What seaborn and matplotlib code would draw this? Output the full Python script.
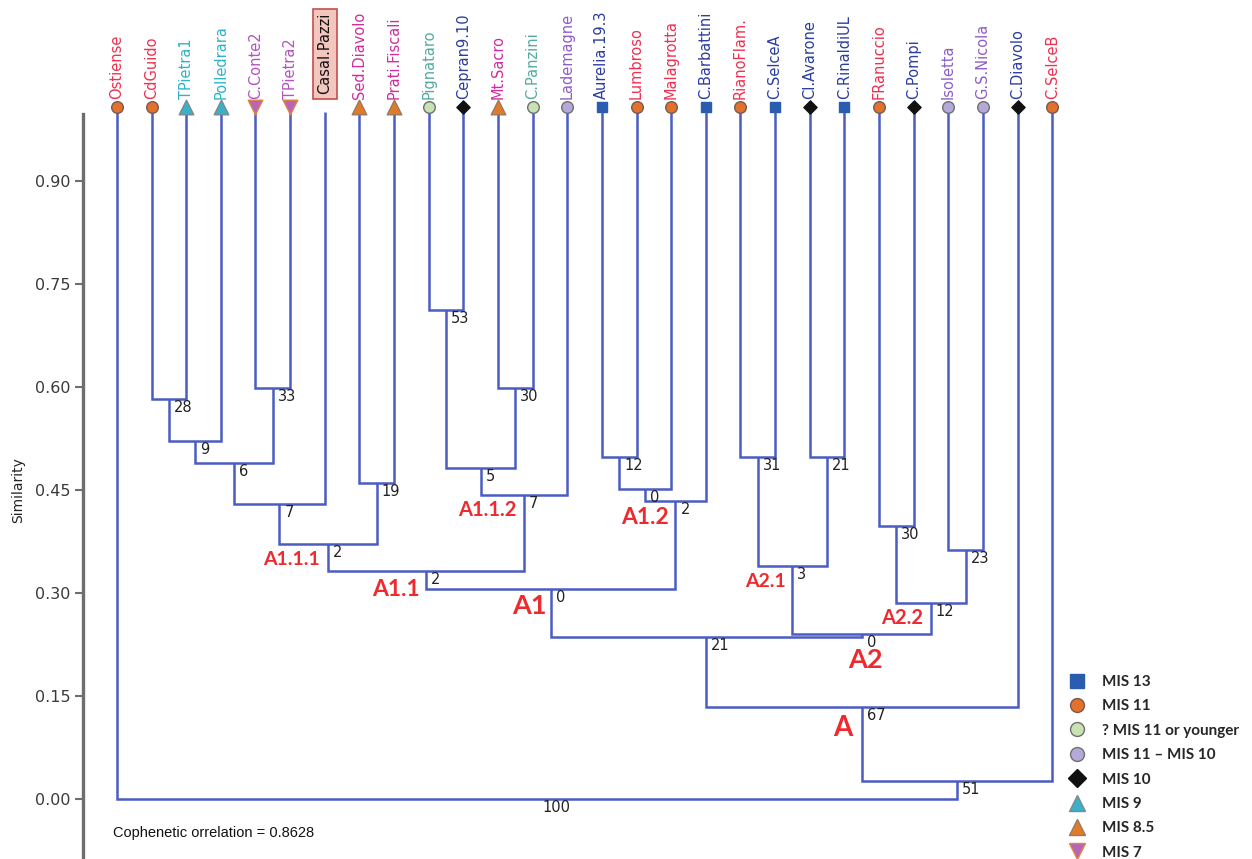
import numpy as np
import pandas as pd
import matplotlib
matplotlib.use("Agg")
import matplotlib.pyplot as plt
from matplotlib.lines import Line2D
from matplotlib.transforms import ScaledTranslation
import seaborn as sns

# ---------------- data ----------------
sites = ["Ostiense", "CdGuido", "TPietra1", "Polledrara", "C.Conte2", "TPietra2",
         "Casal.Pazzi", "Sed.Diavolo", "Prati.Fiscali", "Pignataro", "Cepran9.10",
         "Mt.Sacro", "C.Panzini", "Lademagne", "Aurelia.19.3", "Lumbroso",
         "Malagrotta", "C.Barbattini", "RianoFlam.", "C.SelceA", "Cl.Avarone",
         "C.RinaldiUL", "FRanuccio", "C.Pompi", "Isoletta", "G.S.Nicola",
         "C.Diavolo", "C.SelceB"]

site_age = ["MIS 11", "MIS 11", "MIS 9", "MIS 9", "MIS 7", "MIS 7",
            None, "MIS 8.5", "MIS 8.5", "? MIS 11 or younger", "MIS 10",
            "MIS 8.5", "? MIS 11 or younger", "MIS 11 – MIS 10", "MIS 13", "MIS 11",
            "MIS 11", "MIS 13", "MIS 11", "MIS 13", "MIS 10",
            "MIS 13", "MIS 11", "MIS 10", "MIS 11 – MIS 10", "MIS 11 – MIS 10",
            "MIS 10", "MIS 11"]

age_classes = ["MIS 13", "MIS 11", "? MIS 11 or younger", "MIS 11 – MIS 10",
               "MIS 10", "MIS 9", "MIS 8.5", "MIS 7"]

# merges: children refer to leaves (0..27) or to earlier merges ("m<k>")
merge_left = [1, "m0", 4, "m1", "m3", 7, "m4", 9, 11, "m7", "m9", "m6", 14, "m12",
              "m13", "m11", 18, 20, "m16", 22, 24, "m19", "m18", "m15", "m23", "m24", 0]
merge_right = [2, 3, 5, "m2", 6, 8, "m5", 10, 12, "m8", 13, "m10", 15, 16,
               17, "m14", 19, 21, "m17", 23, 25, "m20", "m21", "m22", 26, 27, "m25"]
merge_similarity = [0.582, 0.521, 0.598, 0.489, 0.430, 0.460, 0.371, 0.712, 0.598,
                    0.482, 0.442, 0.332, 0.498, 0.452, 0.434, 0.306, 0.498, 0.498,
                    0.340, 0.398, 0.362, 0.285, 0.240, 0.236, 0.134, 0.026, 0.000]
merge_support = [28, 9, 33, 6, 7, 19, 2, 53, 30, 5, 7, 2, 12, 0, 2, 0, 31, 21,
                 3, 30, 23, 12, 0, 21, 67, 51, 100]

group_names = ["A1.1.1", "A1.1", "A1.1.2", "A1.2", "A1", "A2.1", "A2.2", "A2", "A"]
group_merge = [6, 11, 10, 14, 15, 18, 21, 22, 24]

y_ticks = [0.00, 0.15, 0.30, 0.45, 0.60, 0.75, 0.90]
coph_text = "Cophenetic orrelation = 0.8628"

# ---------------- styles ----------------
LINE = "#4b5cc2"
marker_style = {
    "MIS 13": dict(marker="s", color="#2a5cb0", edge="#2a5cb0", s=60),
    "MIS 11": dict(marker="o", color="#e2712b", edge="#7a5a50", s=70),
    "? MIS 11 or younger": dict(marker="o", color="#c9e2b3", edge="#6f6f6f", s=70),
    "MIS 11 – MIS 10": dict(marker="o", color="#b6a9d9", edge="#6f6f6f", s=70),
    "MIS 10": dict(marker="D", color="#111111", edge="#111111", s=45),
    "MIS 9": dict(marker="^", color="#39b1c9", edge="#7a8a90", s=110),
    "MIS 8.5": dict(marker="^", color="#e27b29", edge="#9a7a60", s=110),
    "MIS 7": dict(marker="v", color="#b865b9", edge="#e0843e", s=110),
}
label_color = {
    "MIS 13": "#2b3da0", "MIS 11": "#ef3050", "? MIS 11 or younger": "#52ab9f",
    "MIS 11 – MIS 10": "#8d5ec6", "MIS 10": "#2b3da0", "MIS 9": "#2fb3c7",
    "MIS 8.5": "#cf2d9d", "MIS 7": "#b352c0", None: "#222222",
}
group_layout = {  # offsets in pixels from the node, fontsize
    "A1.1.1": (-37, -15, 14), "A1.1": (-30, -19, 16.5), "A1.1.2": (-37, -15, 14.5),
    "A1.2": (-30, -17, 16.5), "A1": (-21, -17, 19.5), "A2.1": (-27, -16, 14),
    "A2.2": (-29, -15, 14.5), "A2": (4, -26, 19.5), "A": (-19, -21, 20),
}

sns.set_theme(style="white")
plt.rcParams["font.family"] = ["DejaVu Sans"]

W, H = 1252, 859
fig = plt.figure(figsize=(W / 100, H / 100), dpi=100)
ax = fig.add_axes([83 / W, 0, (1066 - 83) / W, (H - 114) / H])
ax.set_xlim(-0.98, 27.40)
ax.set_ylim(-0.0874, 0.9975)

# ---------------- dendrogram geometry ----------------
n_leaves = len(sites)
LEAF_TOP = 1.0
pos = {i: (float(i), LEAF_TOP) for i in range(n_leaves)}

for k, (a, b, h) in enumerate(zip(merge_left, merge_right, merge_similarity)):
    xa, ya = pos[a]
    xb, yb = pos[b]
    ax.plot([xa, xa, xb, xb], [ya, h, h, yb], color=LINE, lw=1.8,
            solid_joinstyle="miter", solid_capstyle="butt", zorder=2, clip_on=False)
    pos[f"m{k}"] = ((xa + xb) / 2, h)

# support values at each node
for k, v in enumerate(merge_support):
    x, y = pos[f"m{k}"]
    ax.annotate(str(v), (x, y), xytext=(5, -1), textcoords="offset pixels",
                ha="left", va="top", fontsize=10.5, color="#222222", zorder=4)

# cluster names
for name, k in zip(group_names, group_merge):
    dx, dy, fs = group_layout[name]
    x, y = pos[f"m{k}"]
    ax.annotate(name, (x, y), xytext=(dx, dy), textcoords="offset pixels",
                ha="center", va="center", fontsize=fs, fontweight="bold",
                family=["Lato", "DejaVu Sans"], color="#ee2a2f", zorder=5)

# leaf markers
leaf_df = pd.DataFrame({"x": np.arange(n_leaves, dtype=float),
                        "y": LEAF_TOP, "site": sites, "age": site_age})
lift = ScaledTranslation(0, 5 / 100, fig.dpi_scale_trans)
for age in age_classes:
    sub = leaf_df[leaf_df["age"] == age]
    st = marker_style[age]
    n_before = len(ax.collections)
    sns.scatterplot(data=sub, x="x", y="y", ax=ax, marker=st["marker"],
                    color=st["color"], edgecolor=st["edge"], linewidth=1.0,
                    s=st["s"], legend=False, zorder=6, clip_on=False)
    for coll in ax.collections[n_before:]:
        coll.set_offset_transform(ax.transData + lift)
        coll.set_clip_on(False)

# leaf names
for i, (name, age) in enumerate(zip(sites, site_age)):
    kw = dict(rotation=90, ha="center", va="bottom", fontsize=10.5,
              color=label_color[age], zorder=7, annotation_clip=False)
    if age is None:
        kw["color"] = "#111111"
        kw["bbox"] = dict(boxstyle="square,pad=0.3", fc="#f3c6be", ec="#c0504d", lw=1.2)
        ax.annotate(name, (i, LEAF_TOP), xytext=(0, 18), textcoords="offset pixels", **kw)
    else:
        ax.annotate(name, (i, LEAF_TOP), xytext=(0, 13), textcoords="offset pixels", **kw)

# axes styling
for side in ["top", "right", "bottom"]:
    ax.spines[side].set_visible(False)
ax.spines["left"].set_color("#6e6e6e")
ax.spines["left"].set_linewidth(2.4)
ax.set_xticks([])
ax.set_yticks(y_ticks)
ax.set_yticklabels([f"{t:.2f}" for t in y_ticks])
ax.tick_params(axis="y", left=True, length=6, width=1.5, color="#6e6e6e",
               labelsize=11.5, labelcolor="#3a3a3a", pad=3)
ax.set_xlabel("")
ax.set_ylabel("")
ax.grid(False)
ax.patch.set_alpha(0)

fig.text(18 / W, 1 - 490 / H, "Similarity", rotation=90, ha="center", va="center",
         fontsize=10, color="#222222", family=["Liberation Sans Narrow", "DejaVu Sans"])
fig.text(113 / W, 1 - 833 / H, coph_text, ha="left", va="center", fontsize=10.5,
         color="#111111", family=["Liberation Sans", "DejaVu Sans"])

# legend
handles = []
for age in age_classes:
    st = marker_style[age]
    ms = {"s": 10, "o": 10, "D": 9, "^": 12, "v": 12}[st["marker"]]
    handles.append(Line2D([], [], ls="none", marker=st["marker"], markersize=ms,
                          markerfacecolor=st["color"], markeredgecolor=st["edge"],
                          markeredgewidth=1.0))
leg = fig.legend(handles, age_classes, loc="upper left",
                 bbox_to_anchor=(1068 / W, 1 - 675 / H), bbox_transform=fig.transFigure,
                 frameon=False, borderpad=0, borderaxespad=0, handlelength=1.2,
                 handletextpad=1.0, labelspacing=0.68,
                 prop=dict(family=["Lato", "DejaVu Sans"], weight="bold", size=11))

fig.savefig("out.png", dpi=100, facecolor="white")
